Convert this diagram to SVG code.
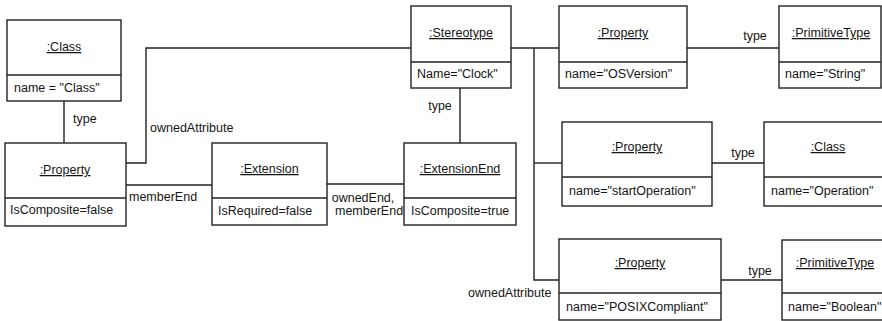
<svg xmlns="http://www.w3.org/2000/svg" width="882" height="321" viewBox="0 0 882 321">
<style>
rect{fill:#fff;stroke:#222;stroke-width:1.4}
line,polyline{fill:none;stroke:#222;stroke-width:1.4}
text{font-family:"Liberation Sans",Arial,sans-serif;font-size:12.5px;fill:#151515}
.h{text-anchor:middle;text-decoration:underline}
.m{text-anchor:middle}
</style>
<rect x="0" y="0" width="882" height="321" style="fill:#fff;stroke:none"/>
<g id="connectors">
<line x1="64" y1="101" x2="64" y2="143"/>
<polyline points="126,163 146,163 146,48 411,48"/>
<line x1="126" y1="185" x2="212" y2="185"/>
<line x1="327" y1="184" x2="404" y2="184"/>
<line x1="460" y1="88" x2="460" y2="143"/>
<line x1="511" y1="48" x2="559" y2="48"/>
<polyline points="534,48 534,280 559,280"/>
<line x1="534" y1="163" x2="562" y2="163"/>
<line x1="687" y1="48" x2="779" y2="48"/>
<line x1="712" y1="163" x2="764" y2="163"/>
<line x1="721" y1="280" x2="782" y2="280"/>
<text x="73" y="123">type</text>
<text x="150" y="132">ownedAttribute</text>
<text x="129" y="201">memberEnd</text>
<text x="363" y="202" class="m">ownedEnd,</text>
<text x="335" y="215">memberEnd</text>
<text x="440" y="110" class="m">type</text>
<text x="755" y="40" class="m">type</text>
<text x="743" y="157" class="m">type</text>
<text x="760" y="275" class="m">type</text>
<text x="468" y="297">ownedAttribute</text>
</g>
<g id="classObj">
<rect x="7" y="20" width="114" height="81"/><line x1="7" y1="75" x2="121" y2="75"/>
<text x="64" y="51" class="h">:Class</text><text x="14" y="92">name = "Class"</text>
</g>
<g id="propertyLeft">
<rect x="5" y="143" width="121" height="83"/><line x1="5" y1="198" x2="126" y2="198"/>
<text x="65" y="174" class="h">:Property</text><text x="10" y="214">IsComposite=false</text>
</g>
<g id="extension">
<rect x="212" y="143" width="115" height="82"/><line x1="212" y1="198" x2="327" y2="198"/>
<text x="269.5" y="173" class="h">:Extension</text><text x="218" y="215">IsRequired=false</text>
</g>
<g id="extensionEnd">
<rect x="404" y="143" width="112" height="82"/><line x1="404" y1="198" x2="516" y2="198"/>
<text x="460" y="173" class="h">:ExtensionEnd</text><text x="411" y="215">IsComposite=true</text>
</g>
<g id="stereotype">
<rect x="411" y="6" width="100" height="82"/><line x1="411" y1="62" x2="511" y2="62"/>
<text x="461" y="37" class="h">:Stereotype</text><text x="417" y="78">Name="Clock"</text>
</g>
<g id="propOSVersion">
<rect x="559" y="6" width="128" height="82"/><line x1="559" y1="62" x2="687" y2="62"/>
<text x="623" y="37" class="h">:Property</text><text x="565" y="78">name="OSVersion"</text>
</g>
<g id="primString">
<rect x="779" y="6" width="102" height="82"/><line x1="779" y1="62" x2="881" y2="62"/>
<text x="831" y="37" class="h">:PrimitiveType</text><text x="785" y="78">name="String"</text>
</g>
<g id="propStartOperation">
<rect x="562" y="122" width="150" height="84"/><line x1="562" y1="177" x2="712" y2="177"/>
<text x="637" y="151" class="h">:Property</text><text x="569" y="195">name="startOperation"</text>
</g>
<g id="classOperation">
<rect x="764" y="122" width="128" height="84"/><line x1="764" y1="177" x2="892" y2="177"/>
<text x="828" y="151" class="h">:Class</text><text x="771" y="195">name="Operation"</text>
</g>
<g id="propPOSIX">
<rect x="559" y="239" width="162" height="81"/><line x1="559" y1="293" x2="721" y2="293"/>
<text x="640" y="267" class="h">:Property</text><text x="566" y="311">name="POSIXCompliant"</text>
</g>
<g id="primBoolean">
<rect x="782" y="240" width="106" height="80"/><line x1="782" y1="293" x2="888" y2="293"/>
<text x="835" y="267" class="h">:PrimitiveType</text><text x="788" y="311">name="Boolean"</text>
</g>
</svg>
